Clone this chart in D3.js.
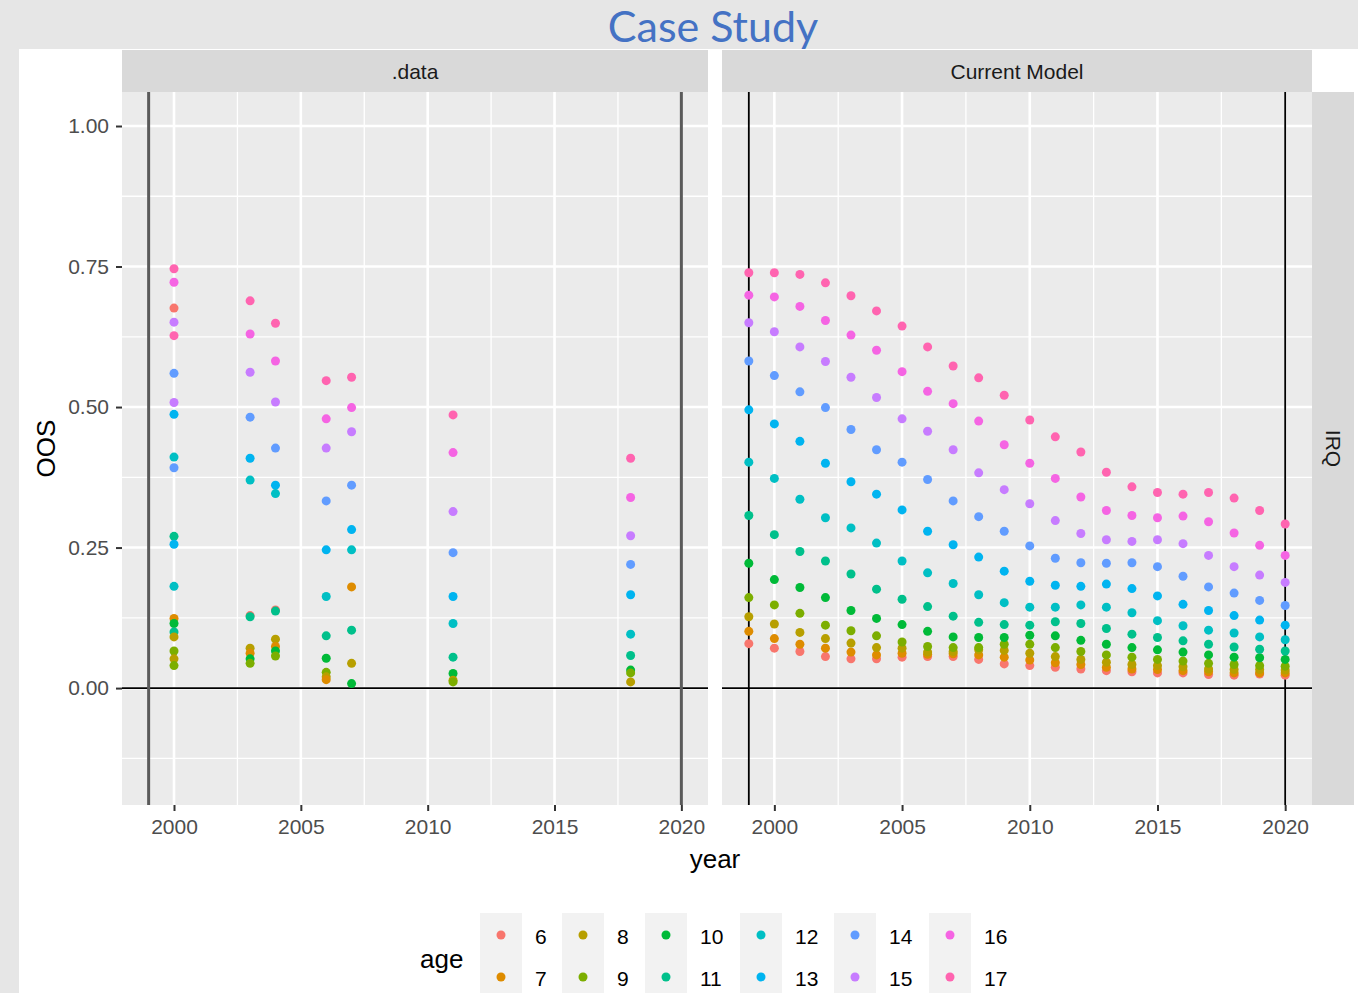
<!DOCTYPE html>
<html>
<head>
<meta charset="utf-8">
<script src="https://cdn.jsdelivr.net/npm/d3@7"></script>
<style>
  html, body { margin: 0; padding: 0; background: #e6e6e6; }
  svg { display: block; }
</style>
</head>
<body>
<svg id="chart" width="1358" height="993"></svg>
<script>
// ---------------- DATA ----------------
const ages = [6, 7, 8, 9, 10, 11, 12, 13, 14, 15, 16, 17];
const ageColors = ["#F8766D", "#DE8C00", "#B79F00", "#7CAE00", "#00BA38", "#00C08B",
                   "#00BFC4", "#00B4F0", "#619CFF", "#C77CFF", "#F564E3", "#FF64B0"];
const xTicks = [2000, 2005, 2010, 2015, 2020];
const yTicks = [0, 0.25, 0.5, 0.75, 1.0];
const yTickLabels = ["0.00", "0.25", "0.50", "0.75", "1.00"];
const panelNames = [".data", "Current Model"];
const rowStrip = "IRQ";
const vLineYears = [1999, 2020];

// observed data (".data" panel)
const dataYear = [
  2000,2000,2000,2000,2000,2000,2000,2000,2000,2000,2000,2000,2000,2000,2000,2000,2000,2000,2000,2000,
  2003,2003,2003,2003,2003,2003,2003,2003,2003,2003,2003,2003,
  2004,2004,2004,2004,2004,2004,2004,2004,2004,2004,2004,2004,
  2006,2006,2006,2006,2006,2006,2006,2006,2006,2006,2006,
  2007,2007,2007,2007,2007,2007,2007,2007,2007,2007,
  2011,2011,2011,2011,2011,2011,2011,2011,2011,2011,
  2018,2018,2018,2018,2018,2018,2018,2018,2018,2018
];
const dataAge = [
  17,16,6,15,17,14,15,13,12,14,11,13,12,7,10,11,8,9,8,9,
  17,16,15,14,13,12,6,11,8,7,10,9,
  17,16,15,14,13,12,6,11,8,7,10,9,
  17,16,15,14,13,12,11,10,9,8,7,
  17,16,15,14,13,12,7,11,8,10,
  17,16,15,14,13,12,11,10,8,9,
  17,16,15,14,13,12,11,10,9,8
];
const dataOOS = [
  0.746,0.722,0.676,0.651,0.627,0.560,0.508,0.487,0.411,0.392,0.270,0.256,0.181,0.124,0.115,0.100,0.091,0.066,0.052,0.040,
  0.689,0.630,0.562,0.482,0.409,0.370,0.129,0.127,0.071,0.062,0.052,0.044,
  0.649,0.582,0.509,0.427,0.361,0.346,0.139,0.137,0.087,0.074,0.066,0.057,
  0.547,0.479,0.427,0.333,0.246,0.163,0.093,0.053,0.028,0.020,0.015,
  0.553,0.499,0.456,0.361,0.282,0.246,0.180,0.103,0.044,0.008,
  0.486,0.419,0.314,0.241,0.163,0.115,0.055,0.026,0.014,0.011,
  0.409,0.339,0.271,0.220,0.166,0.096,0.058,0.032,0.027,0.011
];

// model predictions ("Current Model" panel), years 1999..2020
const modelYears = [1999,2000,2001,2002,2003,2004,2005,2006,2007,2008,2009,2010,
                    2011,2012,2013,2014,2015,2016,2017,2018,2019,2020];
const modelAge6  = [.079,.071,.065,.056,.052,.052,.055,.056,.056,.051,.043,.040,.037,.034,.031,.029,.027,.027,.024,.023,.025,.023];
const modelAge7  = [.101,.088,.078,.071,.064,.059,.062,.060,.061,.059,.055,.050,.045,.042,.037,.034,.033,.031,.029,.027,.027,.027];
const modelAge8  = [.127,.114,.099,.088,.080,.072,.071,.064,.065,.068,.067,.062,.056,.051,.046,.042,.040,.038,.034,.033,.033,.032];
const modelAge9  = [.161,.148,.133,.112,.102,.093,.082,.074,.072,.072,.078,.078,.072,.065,.059,.055,.051,.048,.044,.042,.040,.039];
const modelAge10 = [.222,.193,.179,.161,.138,.124,.113,.101,.091,.090,.090,.094,.093,.085,.078,.072,.068,.064,.059,.055,.054,.051];
const modelAge11 = [.307,.273,.243,.226,.203,.176,.158,.145,.128,.117,.113,.112,.118,.115,.106,.096,.090,.084,.078,.073,.069,.066];
const modelAge12 = [.402,.373,.336,.303,.285,.258,.226,.205,.186,.166,.152,.144,.144,.148,.144,.134,.120,.111,.103,.098,.091,.086];
const modelAge13 = [.495,.470,.439,.400,.367,.345,.317,.279,.255,.233,.208,.190,.183,.181,.185,.177,.164,.149,.138,.129,.121,.112];
const modelAge14 = [.582,.556,.527,.499,.460,.424,.402,.371,.333,.305,.279,.253,.231,.223,.222,.223,.216,.199,.180,.169,.156,.147];
const modelAge15 = [.650,.634,.607,.581,.553,.517,.479,.457,.424,.383,.353,.328,.298,.275,.264,.261,.264,.257,.236,.216,.201,.188];
const modelAge16 = [.699,.696,.679,.654,.628,.601,.563,.528,.506,.475,.433,.400,.373,.340,.316,.307,.303,.306,.296,.276,.254,.236];
const modelAge17 = [.739,.739,.736,.721,.698,.671,.644,.607,.573,.552,.521,.477,.447,.420,.384,.358,.348,.345,.348,.338,.316,.292];
const modelSeries = [modelAge6, modelAge7, modelAge8, modelAge9, modelAge10, modelAge11,
                     modelAge12, modelAge13, modelAge14, modelAge15, modelAge16, modelAge17];

// ---------------- LAYOUT ----------------
const svg = d3.select("#chart");
const FONT = "'Liberation Sans', Arimo, Arial, sans-serif";
const panelTop = 92, panelBottom = 805;
const panels = [{x0: 122, x1: 708}, {x0: 722, x1: 1312}];
const stripTop = 50;
const color = d3.scaleOrdinal().domain(ages).range(ageColors);

const y = d3.scaleLinear().domain([-0.208, 1.0605]).range([panelBottom, panelTop]);
const xScales = panels.map(p => d3.scaleLinear().domain([1997.95, 2021.05]).range([p.x0, p.x1]));

// white canvas area
svg.append("rect").attr("x", 0).attr("y", 0).attr("width", 1358).attr("height", 993).attr("fill", "#e6e6e6");
svg.append("rect").attr("x", 19).attr("y", 49).attr("width", 1339).attr("height", 944).attr("fill", "#ffffff");

// title
svg.append("text").attr("x", 713).attr("y", 42).attr("text-anchor", "middle")
  .attr("font-family", "Lato, 'Open Sans', sans-serif").attr("font-size", 43)
  .attr("fill", "#4472C4").text("Case Study");

const yMinor = [-0.125, 0.125, 0.375, 0.625, 0.875];
const xMinor = [2002.5, 2007.5, 2012.5, 2017.5];

panels.forEach((p, i) => {
  const x = xScales[i];
  const g = svg.append("g");
  // strip
  g.append("rect").attr("x", p.x0).attr("y", stripTop).attr("width", p.x1 - p.x0)
    .attr("height", panelTop - stripTop).attr("fill", "#d9d9d9");
  g.append("text").attr("x", (p.x0 + p.x1) / 2).attr("y", 79).attr("text-anchor", "middle")
    .attr("font-family", FONT).attr("font-size", 21).attr("fill", "#1a1a1a").text(panelNames[i]);
  // panel bg
  g.append("rect").attr("x", p.x0).attr("y", panelTop).attr("width", p.x1 - p.x0)
    .attr("height", panelBottom - panelTop).attr("fill", "#ebebeb");
  // minor grid
  g.selectAll(".ymin").data(yMinor).enter().append("line")
    .attr("x1", p.x0).attr("x2", p.x1).attr("y1", d => y(d)).attr("y2", d => y(d))
    .attr("stroke", "#ffffff").attr("stroke-width", 1.3);
  g.selectAll(".xmin").data(xMinor).enter().append("line")
    .attr("x1", d => x(d)).attr("x2", d => x(d)).attr("y1", panelTop).attr("y2", panelBottom)
    .attr("stroke", "#ffffff").attr("stroke-width", 1.3);
  // major grid
  g.selectAll(".ymaj").data(yTicks).enter().append("line")
    .attr("x1", p.x0).attr("x2", p.x1).attr("y1", d => y(d)).attr("y2", d => y(d))
    .attr("stroke", "#ffffff").attr("stroke-width", 2.6);
  g.selectAll(".xmaj").data(xTicks).enter().append("line")
    .attr("x1", d => x(d)).attr("x2", d => x(d)).attr("y1", panelTop).attr("y2", panelBottom)
    .attr("stroke", "#ffffff").attr("stroke-width", 2.6);

  // x axis
  const xAxis = d3.axisBottom(x).tickValues(xTicks).tickFormat(d3.format("d")).tickSize(6).tickPadding(8);
  const ax = svg.append("g").attr("transform", `translate(0,${panelBottom})`).call(xAxis);
  ax.select(".domain").remove();
  ax.selectAll(".tick line").attr("stroke", "#333333").attr("stroke-width", 2);
  ax.selectAll(".tick text").attr("font-family", FONT).attr("font-size", 21).attr("fill", "#4d4d4d");
});

// y axis
const yAxis = d3.axisLeft(y).tickValues(yTicks).tickFormat((d, i) => yTickLabels[i]).tickSize(6).tickPadding(7);
const ay = svg.append("g").attr("transform", `translate(${panels[0].x0},0)`).call(yAxis);
ay.select(".domain").remove();
ay.selectAll(".tick line").attr("stroke", "#333333").attr("stroke-width", 2);
ay.selectAll(".tick text").attr("font-family", FONT).attr("font-size", 21).attr("fill", "#4d4d4d");

// reference lines
const pointsLayer = [];
panels.forEach((p, i) => {
  const x = xScales[i];
  const g = svg.append("g");
  g.append("line").attr("x1", p.x0).attr("x2", p.x1).attr("y1", y(0)).attr("y2", y(0))
    .attr("stroke", "#000000").attr("stroke-width", 1.6);
  g.selectAll(".vl").data(vLineYears).enter().append("line")
    .attr("x1", d => x(d)).attr("x2", d => x(d)).attr("y1", panelTop).attr("y2", panelBottom)
    .attr("stroke", i === 0 ? "#5a5a5a" : "#000000").attr("stroke-width", i === 0 ? 3 : 1.8);
  pointsLayer.push(g);
});

// observed points
const obs = dataYear.map((yr, k) => ({year: yr, age: dataAge[k], v: dataOOS[k]}));
pointsLayer[0].selectAll(".obs").data(obs).enter().append("circle")
  .attr("cx", d => xScales[0](d.year)).attr("cy", d => y(d.v)).attr("r", 4.5)
  .attr("fill", d => color(d.age));

// model points
const model = [];
modelSeries.forEach((arr, a) => arr.forEach((v, k) => model.push({year: modelYears[k], age: ages[a], v: v})));
pointsLayer[1].selectAll(".mod").data(model).enter().append("circle")
  .attr("cx", d => xScales[1](d.year)).attr("cy", d => y(d.v)).attr("r", 4.5)
  .attr("fill", d => color(d.age));

// right strip
svg.append("rect").attr("x", 1312).attr("y", panelTop).attr("width", 42)
  .attr("height", panelBottom - panelTop).attr("fill", "#d9d9d9");
svg.append("text").attr("transform", `translate(1326,${(panelTop + panelBottom) / 2}) rotate(90)`)
  .attr("text-anchor", "middle").attr("font-family", FONT).attr("font-size", 21)
  .attr("fill", "#1a1a1a").text(rowStrip);

// axis titles
svg.append("text").attr("x", 715).attr("y", 868).attr("text-anchor", "middle")
  .attr("font-family", FONT).attr("font-size", 26).attr("fill", "#000").text("year");
svg.append("text").attr("transform", `translate(55,${(panelTop + panelBottom) / 2}) rotate(-90)`)
  .attr("text-anchor", "middle").attr("font-family", FONT).attr("font-size", 26)
  .attr("fill", "#000").text("OOS");

// legend
const legend = svg.append("g");
legend.append("text").attr("x", 420).attr("y", 968).attr("font-family", FONT)
  .attr("font-size", 26).attr("fill", "#000").text("age");
const boxX = [480, 562, 645, 740, 834, 929];
const rowY = [913, 955];
ages.forEach((a, k) => {
  const col = Math.floor(k / 2), row = k % 2;
  const bx = boxX[col], by = rowY[row];
  legend.append("rect").attr("x", bx).attr("y", by).attr("width", 42).attr("height", 42)
    .attr("fill", "#f2f2f2");
  legend.append("circle").attr("cx", bx + 21).attr("cy", by + 22).attr("r", 4.5)
    .attr("fill", color(a));
  legend.append("text").attr("x", bx + 55).attr("y", by + 31).attr("font-family", FONT)
    .attr("font-size", 21).attr("fill", "#000").text(a);
});
</script>
</body>
</html>
